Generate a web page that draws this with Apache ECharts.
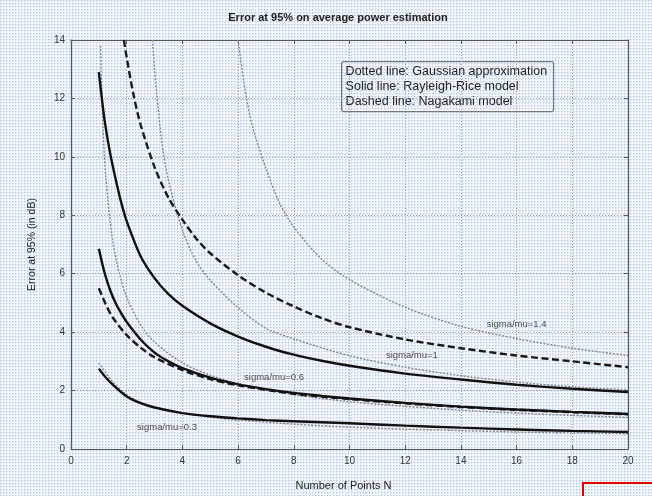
<!DOCTYPE html>
<html>
<head>
<meta charset="utf-8">
<script src="https://cdn.jsdelivr.net/npm/echarts@6/dist/echarts.min.js"></script>
<style>
html,body{margin:0;padding:0;background:#fff;}
#chart{width:652px;height:496px;}
</style>
</head>
<body>
<div id="chart"></div>
<script>
// ---- data (N, error in dB) ----
const xTicks = [0, 2, 4, 6, 8, 10, 12, 14, 16, 18, 20];
const yTicks = [0, 2, 4, 6, 8, 10, 12, 14];

// Rayleigh-Rice model (solid)
const solid03 = [[1,2.75],[1.25,2.45],[1.5,2.2],[2,1.8],[2.5,1.57],[3,1.42],[4,1.23],[5,1.12],[6,1.05],[7,0.99],[8,0.95],[10,0.88],[12,0.8],[14,0.73],[16,0.67],[18,0.62],[20,0.58]];
const solid06 = [[1,6.85],[1.2,6.05],[1.4,5.45],[1.6,5.0],[1.8,4.65],[2,4.35],[2.5,3.75],[3,3.3],[3.5,3.0],[4,2.77],[5,2.44],[6,2.21],[7,2.05],[8,1.92],[9,1.82],[10,1.73],[12,1.58],[14,1.45],[16,1.35],[18,1.27],[20,1.2]];
const solid10 = [[1,12.9],[1.2,11.3],[1.4,10.15],[1.6,9.25],[1.8,8.45],[2,7.8],[2.5,6.6],[3,5.85],[3.5,5.3],[4,4.9],[5,4.3],[6,3.85],[7,3.5],[8,3.23],[9,3.02],[10,2.85],[12,2.58],[14,2.38],[16,2.2],[18,2.06],[20,1.95]];

// Nagakami model (dashed)
const dashed06 = [[1,5.5],[1.25,4.95],[1.5,4.5],[2,3.9],[2.5,3.47],[3,3.14],[4,2.7],[5,2.39],[6,2.18],[8,1.89],[10,1.71],[12,1.56],[14,1.44],[16,1.34],[18,1.26],[20,1.19]];
const dashed14 = [[1.9,14],[2,13.4],[2.25,12.1],[2.5,11.1],[3,9.65],[3.5,8.6],[4,7.85],[4.5,7.2],[5,6.7],[6,5.95],[7,5.35],[8,4.88],[9,4.48],[10,4.17],[12,3.75],[14,3.45],[16,3.2],[18,3.0],[20,2.8]];

// Gaussian approximation (dotted)
const dot03 = [[1,2.95],[1.5,2.3],[2,1.86],[2.5,1.6],[3,1.43],[4,1.23],[5,1.09],[6,0.99],[8,0.85],[10,0.75],[12,0.68],[14,0.63],[16,0.58],[18,0.55],[20,0.52]];
const dot06 = [[1.06,13.8],[1.1,12.3],[1.15,11.0],[1.25,9.3],[1.5,7.1],[1.75,5.96],[2,5.2],[2.5,4.25],[3,3.66],[4,2.95],[5,2.53],[6,2.24],[8,1.86],[10,1.62],[12,1.46],[14,1.33],[16,1.23],[18,1.15],[20,1.08]];
const dot10 = [[2.93,14],[3,13.0],[3.25,10.6],[3.5,9.2],[4,7.5],[4.5,6.42],[5,5.78],[6,4.84],[7,4.13],[8,3.77],[10,3.19],[12,2.8],[14,2.51],[16,2.29],[18,2.13],[20,2.02]];
const dot14 = [[6.0,14],[6.25,12.3],[6.5,11.1],[7,9.6],[7.5,8.4],[8,7.6],[9,6.5],[10,5.8],[12,4.85],[14,4.2],[16,3.78],[18,3.45],[20,3.2]];

const curveLabels = ['sigma/mu=0.3', 'sigma/mu=0.6', 'sigma/mu=1', 'sigma/mu=1.4'];
const curveLabelPos = [[3.45,0.74],[7.29,2.46],[12.24,3.2],[16.0,4.25]];

const legendLines = ['Dotted line: Gaussian approximation', 'Solid line: Rayleigh-Rice model', 'Dashed line: Nagakami model'];

// ---- background texture ----
const tile = document.createElement('canvas');
tile.width = 3; tile.height = 3;
const tctx = tile.getContext('2d');
tctx.fillStyle = '#f3f6fb'; tctx.fillRect(0,0,3,3);
tctx.fillStyle = '#b7c9e8'; tctx.fillRect(0,0,1,1);
tctx.fillStyle = '#d6e1f2'; tctx.fillRect(1,0,1,1); tctx.fillRect(0,1,1,1);

const chart = echarts.init(document.getElementById('chart'), null, {renderer:'canvas'});

const font = 'Liberation Sans, Arial, sans-serif';
const axisCommon = {
  min: 0,
  interval: 2,
  axisLine: {show: true, onZero:false, lineStyle: {color: '#555', width: 1.2}},
  axisTick: {show: true, inside: true, length: 4, lineStyle: {color: '#555'}},
  splitLine: {show: false},
};

function lineSeries(data, type, color, width) {
  return {
    type: 'line', data: data, showSymbol: false, symbol: 'none',
    smooth: 0.3, z: type === 'solid' ? 5 : (type === 'dashed' ? 4 : 3),
    lineStyle: {color: color, width: width, type: type === 'dashed' ? [7,3.5] : (type === 'dotted' ? [2,1.5] : 'solid')},
    xAxisIndex: 0, yAxisIndex: 0, silent: true, animation: false
  };
}

const series = [
  lineSeries(dot03, 'dotted', '#858585', 1.4),
  lineSeries(dot06, 'dotted', '#858585', 1.4),
  lineSeries(dot10, 'dotted', '#858585', 1.4),
  lineSeries(dot14, 'dotted', '#858585', 1.4),
  lineSeries(dashed06, 'dashed', '#1a1a1a', 2.4),
  lineSeries(dashed14, 'dashed', '#1a1a1a', 2.4),
  lineSeries(solid03, 'solid', '#111', 2.4),
  lineSeries(solid06, 'solid', '#111', 2.4),
  lineSeries(solid10, 'solid', '#111', 2.4),
  {
    type: 'scatter', symbolSize: 0, silent: true, animation: false, z: 10,
    data: curveLabelPos.map((p, i) => ({value: p, name: curveLabels[i]})),
    label: {show: true, position: 'inside', formatter: p => p.name, fontSize: 9.5, color: '#222', fontFamily: font}
  }
];

chart.setOption({
  backgroundColor: {image: tile, repeat: 'repeat'},
  animation: false,
  title: {
    text: 'Error at 95% on average power estimation',
    left: 333, top: 7, textAlign: 'center',
    textStyle: {fontSize: 11, fontWeight: 'bold', color: '#222', fontFamily: font}
  },
  grid: {left: 71, right: 24, top: 40, bottom: 41, containLabel: false},
  xAxis: [
    Object.assign({}, axisCommon, {
      type: 'value', max: 20, position: 'bottom',
      name: 'Number of Points N', nameLocation: 'middle', nameGap: 31,
      nameTextStyle: {fontSize: 11, color: '#222', fontFamily: font, padding: [0, 12, 0, 0]},
      axisLabel: {fontSize: 10, color: '#333', margin: 7, fontFamily: font, formatter: v => xTicks.includes(v) ? String(v) : ''},
      splitLine: {show: true, lineStyle: {color: '#9a9a9a', type: [1,2], width: 1}}
    }),
    Object.assign({}, axisCommon, {
      type: 'value', max: 20, position: 'top', axisLabel: {show: false}
    })
  ],
  yAxis: [
    Object.assign({}, axisCommon, {
      type: 'value', max: 14, position: 'left',
      name: 'Error at 95% (in dB)', nameLocation: 'middle', nameGap: 33, nameRotate: 90,
      nameTextStyle: {fontSize: 10.5, color: '#222', fontFamily: font},
      axisLabel: {fontSize: 10, color: '#333', margin: 6, fontFamily: font, formatter: v => yTicks.includes(v) ? String(v) : ''},
      splitLine: {show: true, lineStyle: {color: '#9a9a9a', type: [1,2], width: 1}}
    }),
    Object.assign({}, axisCommon, {
      type: 'value', max: 14, position: 'right', axisLabel: {show: false}
    })
  ],
  series: series,
  graphic: [
    {
      type: 'group', left: 341, top: 61,
      children: [
        {type: 'rect', shape: {x: 0, y: 0, width: 212, height: 50, r: 2}, style: {fill: 'rgba(0,0,0,0)', stroke: '#777', lineWidth: 1.2}},
        {type: 'text', x: 4, y: 3, style: {text: legendLines[0], fontSize: 12.5, fill: '#222', fontFamily: font}},
        {type: 'text', x: 4, y: 18, style: {text: legendLines[1], fontSize: 12.5, fill: '#222', fontFamily: font}},
        {type: 'text', x: 4, y: 33, style: {text: legendLines[2], fontSize: 12.5, fill: '#222', fontFamily: font}}
      ]
    },
    {type: 'rect', shape: {x: 583, y: 483, width: 80, height: 30}, style: {fill: 'rgba(0,0,0,0)', stroke: '#e00000', lineWidth: 2}, z: 100}
  ]
});
</script>
</body>
</html>
